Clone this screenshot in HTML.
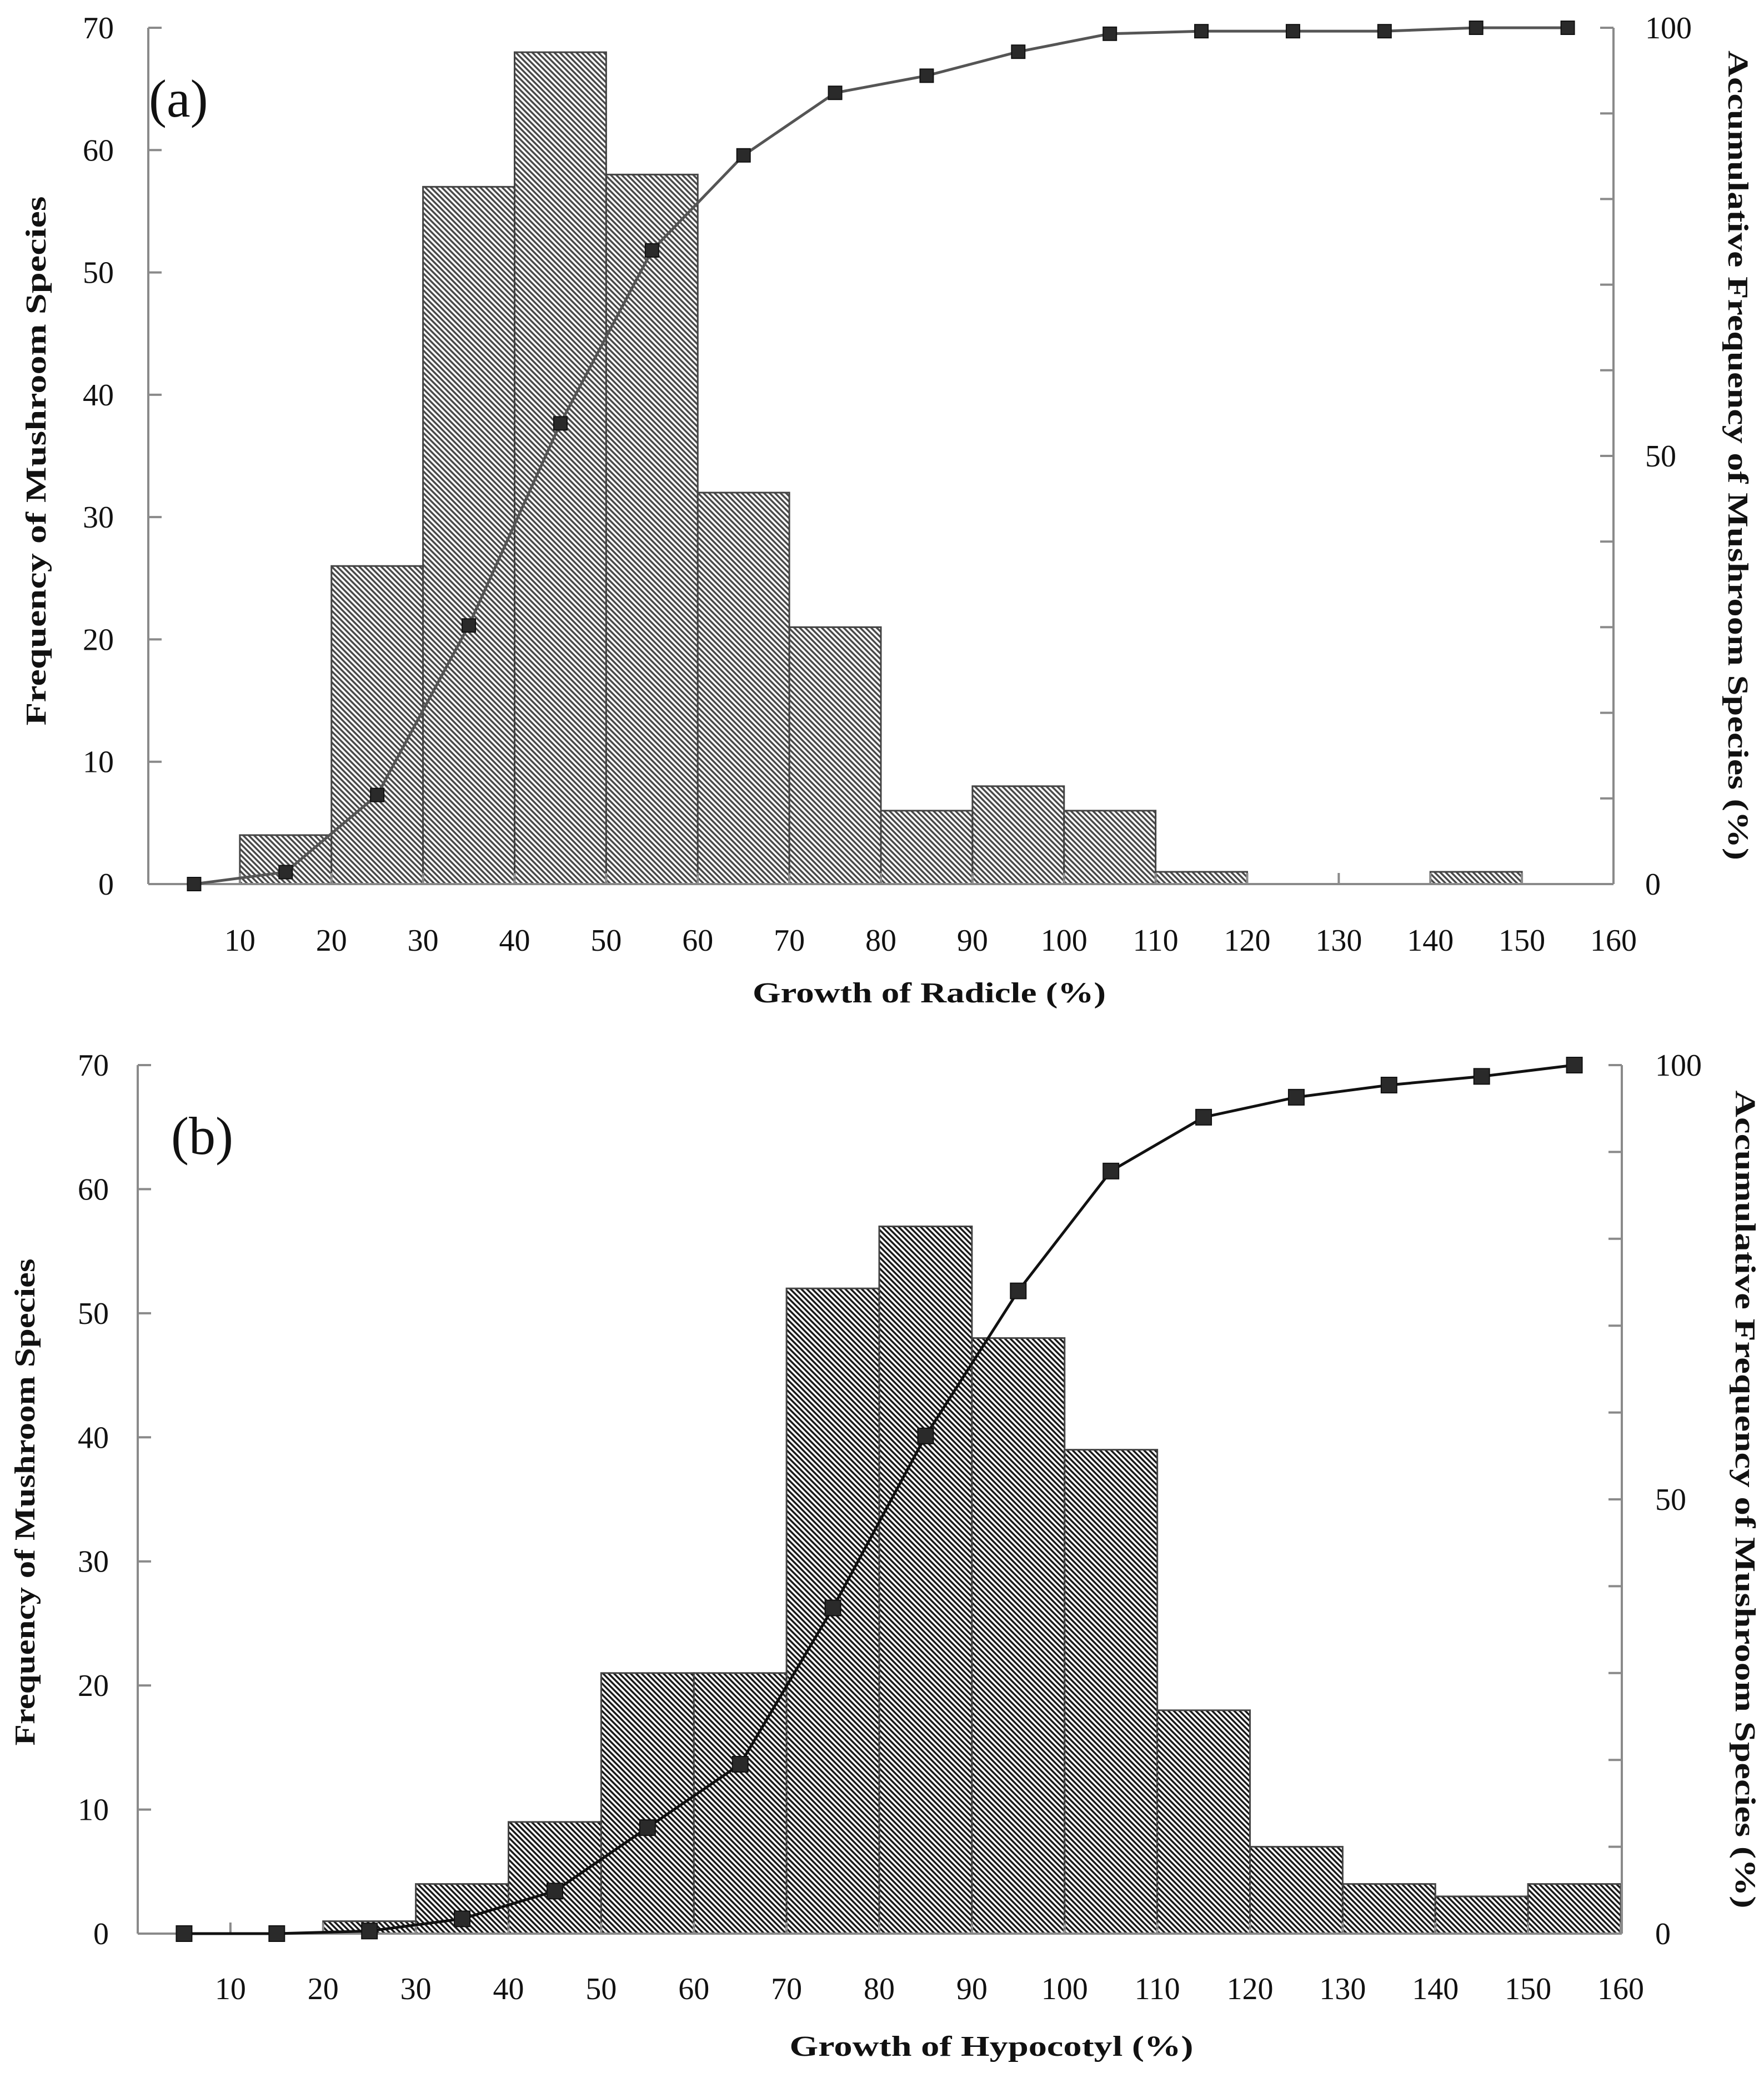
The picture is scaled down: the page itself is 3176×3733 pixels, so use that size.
<!DOCTYPE html>
<html><head><meta charset="utf-8"><style>
html,body{margin:0;padding:0;background:#fff;}
svg{display:block;font-family:"Liberation Serif",serif;}
</style></head><body>
<svg id="chart" width="3176" height="3733" viewBox="0 0 3176 3733" xmlns="http://www.w3.org/2000/svg">
<defs>
<pattern id="hatchA" patternUnits="userSpaceOnUse" width="7" height="7" patternTransform="rotate(-45)">
<rect width="7" height="7" fill="#fff"/>
<rect x="0" y="0" width="3.5" height="7" fill="#4a4a4a"/>
</pattern>
<pattern id="hatchB" patternUnits="userSpaceOnUse" width="7" height="7" patternTransform="rotate(-45)">
<rect width="7" height="7" fill="#fff"/>
<rect x="0" y="0" width="3.5" height="7" fill="#1a1a1a"/>
</pattern>
</defs>
<g id="root"></g>
</svg>
<script>
const binStarts = [10,20,30,40,50,60,70,80,90,100,110,120,130,140,150];
const countsA = [4,26,57,68,58,32,21,6,8,6,1,0,0,1,0];
const countsB = [0,1,4,9,21,21,52,57,48,39,18,7,4,3,4];
const cumX = [5,15,25,35,45,55,65,75,85,95,105,115,125,135,145,155];
const cumA = [0,1.4,10.4,30.2,53.8,74,85.1,92.4,94.4,97.2,99.3,99.6,99.6,99.6,100,100];
const cumB = [0,0,0.3,1.7,4.9,12.2,19.5,37.5,57.3,74,87.8,94,96.3,97.7,98.7,100];
const xTicks = [10,20,30,40,50,60,70,80,90,100,110,120,130,140,150,160];
const yTicks = [0,10,20,30,40,50,60,70];
const rTicks = [0,10,20,30,40,50,60,70,80,90,100];
const rLabels = [0,50,100];

const NS="http://www.w3.org/2000/svg";
const root=document.getElementById('root');
function mk(tag,attrs,parent){const e=document.createElementNS(NS,tag);for(const k in attrs)e.setAttribute(k,attrs[k]);(parent||root).appendChild(e);return e;}

function panel(cfg){
  const g=mk('g',{});
  
  
  const xs=v=>cfg.x0+(v/160)*(cfg.x1-cfg.x0);
  const ys=v=>cfg.y0-(v/70)*(cfg.y0-cfg.y70);
  const yr=v=>cfg.y0-(v/100)*(cfg.y0-cfg.y70);
  cfg.counts.forEach((c,i)=>{
    if(c<=0)return;
    const b=mk('rect',{x:xs(binStarts[i]),y:ys(c),width:xs(binStarts[i]+10)-xs(binStarts[i]),height:ys(0)-ys(c),fill:cfg.fill,stroke:'#444','stroke-width':3},g);
    
    
  });
  const ax=mk('g',{stroke:'#8a8a8a','stroke-width':4,fill:'none'},g);
  
  
  mk('line',{x1:cfg.x0,y1:cfg.y70,x2:cfg.x0,y2:cfg.y0},ax);
  mk('line',{x1:cfg.x0,y1:cfg.y0,x2:cfg.rx,y2:cfg.y0},ax);
  mk('line',{x1:cfg.rx,y1:cfg.y70,x2:cfg.rx,y2:cfg.y0},ax);
  yTicks.forEach(v=>{
    mk('line',{x1:cfg.x0,y1:ys(v),x2:cfg.x0+24,y2:ys(v)},ax);
    const t=mk('text',{x:cfg.ylx,y:ys(v)+19,'text-anchor':'end','font-size':56,fill:'#111'},g);
    t.textContent=v;
    
    
  });
  rTicks.forEach(v=>{mk('line',{x1:cfg.rx-24,y1:yr(v),x2:cfg.rx,y2:yr(v)},ax);});
  rLabels.forEach(v=>{
    const t=mk('text',{x:cfg.rlx,y:yr(v)+19,'font-size':56,fill:'#111'},g);
    t.textContent=v;
    
    
  });
  xTicks.forEach(v=>{
    mk('line',{x1:xs(v),y1:cfg.y0,x2:xs(v),y2:cfg.y0-20},ax);
    const t=mk('text',{x:xs(v),y:cfg.xly,'text-anchor':'middle','font-size':56,fill:'#111'},g);
    t.textContent=v;
    
    
  });
  const pts=cumX.map((x,i)=>xs(x)+','+yr(cfg.cum[i])).join(' ');
  const pl=mk('polyline',{points:pts,fill:'none',stroke:cfg.lc,'stroke-width':5},g);
  
  
  cumX.forEach((x,i)=>{
    const m=mk('rect',{x:xs(x)-cfg.ms/2,y:yr(cfg.cum[i])-cfg.ms/2,width:cfg.ms,height:cfg.ms,fill:'#2a2a2a',stroke:'#111','stroke-width':2},g);
    
    
  });
  const xt=mk('text',{x:cfg.xtx,y:cfg.xty,'text-anchor':'middle','font-size':52,'font-weight':'bold',fill:'#111',textLength:cfg.xtl,lengthAdjust:'spacingAndGlyphs'},g);
  xt.textContent=cfg.xtitle;
  
  
  const cy=cfg.lcy;
  const lt=mk('text',{x:cfg.ltx,y:cy,'text-anchor':'middle','font-size':52,'font-weight':'bold',fill:'#111',textLength:cfg.ltl,lengthAdjust:'spacingAndGlyphs',transform:`rotate(-90 ${cfg.ltx} ${cy})`},g);
  lt.textContent='Frequency  of  Mushroom Species';
  
  
  const ry=cfg.rcy;
  const rt=mk('text',{x:cfg.rtx,y:ry,'text-anchor':'middle','font-size':52,'font-weight':'bold',fill:'#111',textLength:cfg.rtl,lengthAdjust:'spacingAndGlyphs',transform:`rotate(90 ${cfg.rtx} ${ry})`},g);
  rt.textContent='Accumulative Frequency of Mushroom Species (%)';
  
  
  const pt=mk('text',{x:cfg.plx,y:cfg.ply,'font-size':96,fill:'#111'},g);
  pt.textContent=cfg.plabel;
  
  
}

panel({name:'panel-a',counts:countsA,cum:cumA,fill:'url(#hatchA)',x0:267,x1:2905,rx:2905,y0:1592,y70:50,ylx:205,rlx:2962,xly:1712,xtx:1673,xty:1805,xtl:636,xtitle:'Growth of Radicle (%)',ltx:82,ltl:953,lcy:830,rtx:3112,rtl:1458,rcy:820,plx:268,ply:210,plabel:'(a)',lc:'#555',ms:24});
panel({name:'panel-b',counts:countsB,cum:cumB,fill:'url(#hatchB)',x0:248,x1:2918,rx:2920,y0:3482,y70:1918,ylx:196,rlx:2980,xly:3600,xtx:1785,xty:3702,xtl:727,xtitle:'Growth of Hypocotyl (%)',ltx:62,ltl:877,lcy:2705,rtx:3125,rtl:1473,rcy:2700,plx:308,ply:2078,plabel:'(b)',lc:'#111',ms:28});
</script>
</body></html>
